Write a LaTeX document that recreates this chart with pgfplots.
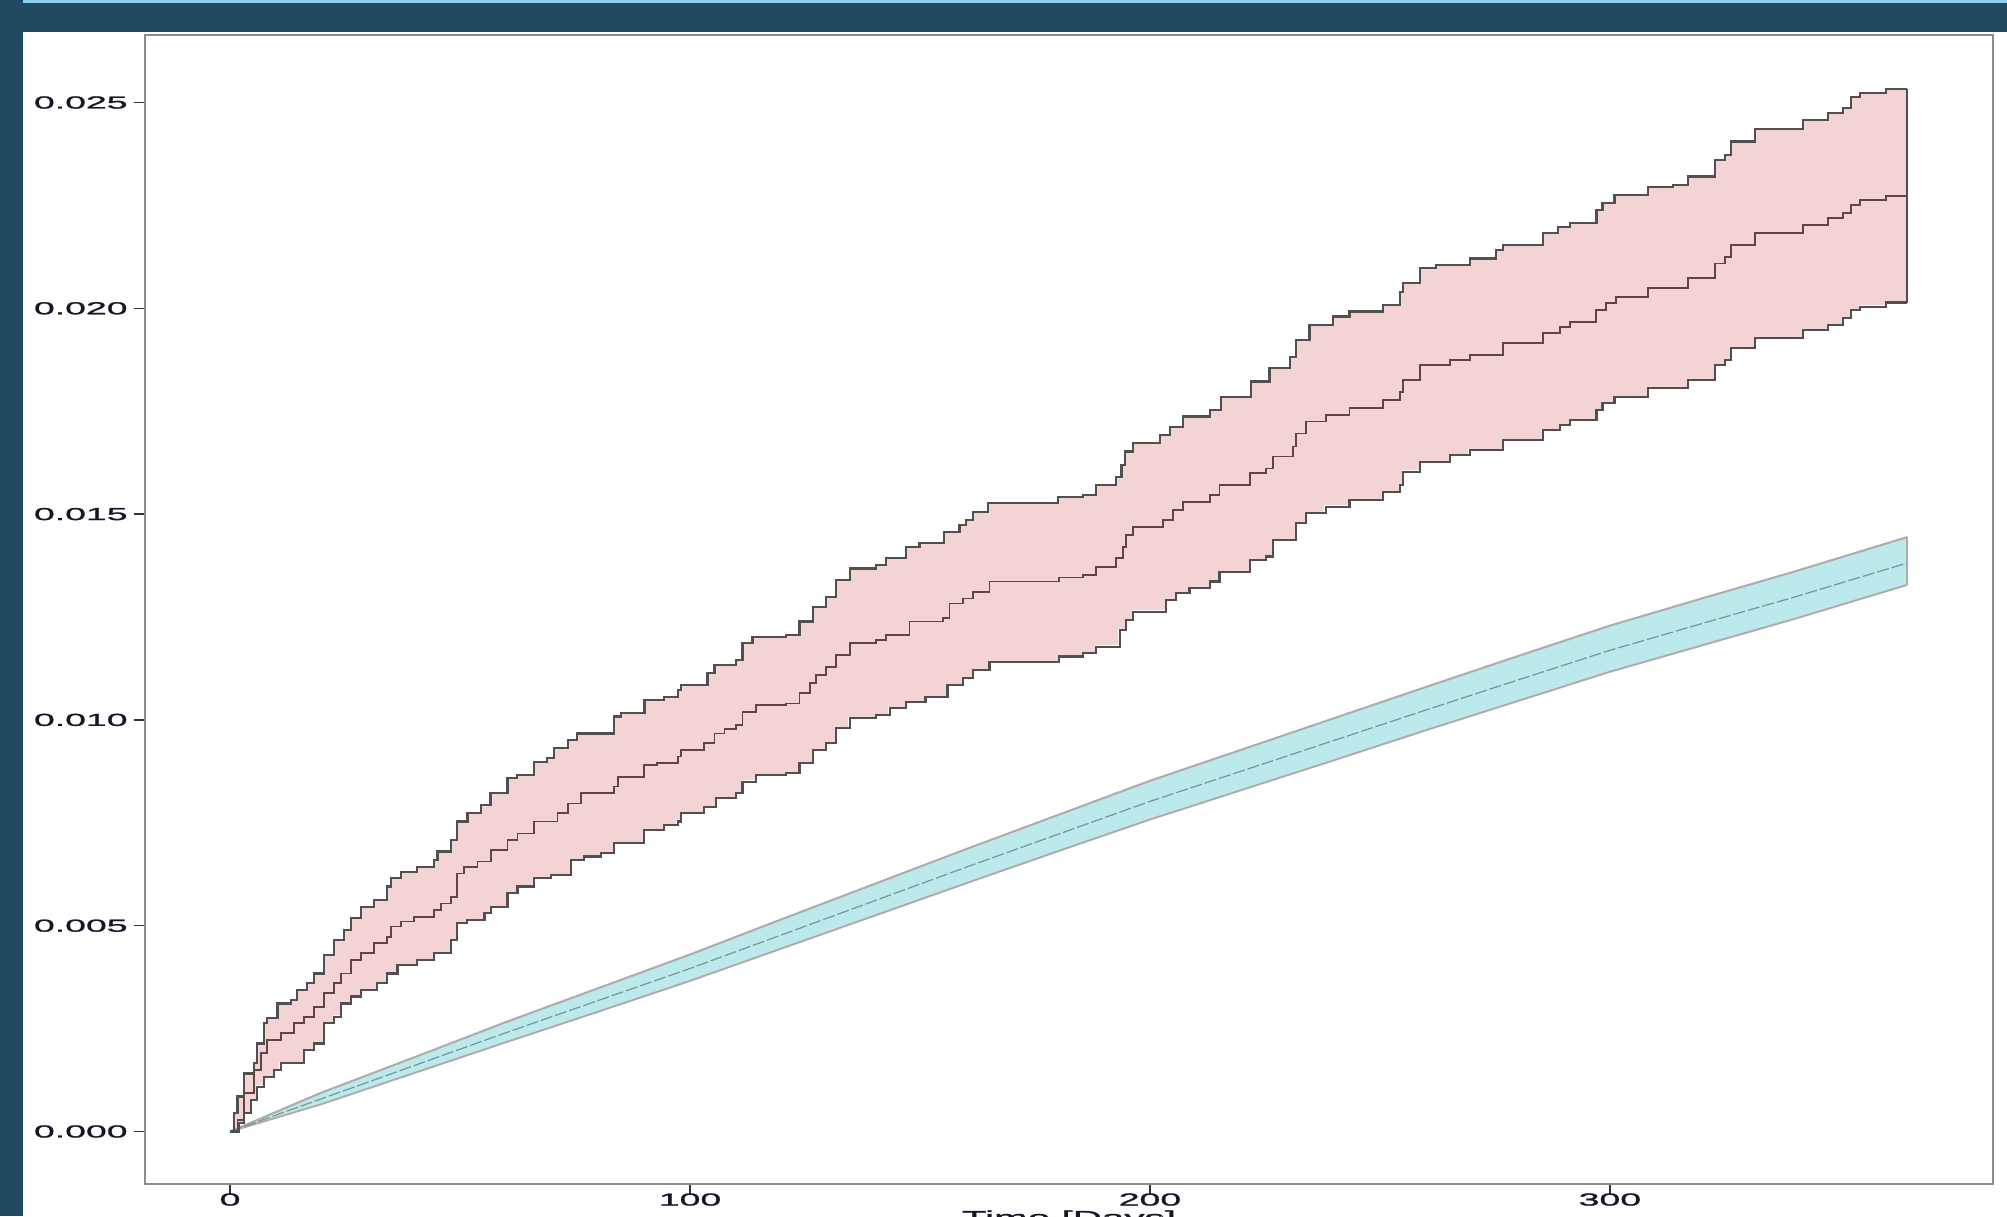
\documentclass[border=0pt]{standalone}
\usepackage{pgfplots}
\pgfplotsset{compat=1.18}
\usepackage{pgfplotstable}
\usepackage{fontspec}
\newfontfamily\labfont{Liberation Sans}[FakeStretch=2.15,FakeBold=1.4]
\definecolor{frame}{RGB}{33,74,98}
\definecolor{topstrip}{RGB}{140,206,238}
\definecolor{pinkfill}{RGB}{244,211,213}
\definecolor{cyanfill}{RGB}{188,233,236}
\definecolor{redline}{RGB}{80,80,80}
\definecolor{redmidc}{RGB}{95,70,70}
\definecolor{cyanline}{RGB}{172,172,172}
\definecolor{cyanmidc}{RGB}{120,148,150}
\definecolor{axisgray}{RGB}{140,140,140}
\definecolor{labcol}{RGB}{22,22,40}

\pgfplotstableread{
day val
0 0
1.6 0.00028
3.0 0.00093
5.2 0.00149
6.7 0.00190
8.1 0.00222
11.0 0.00239
13.9 0.00263
16.1 0.00279
18.3 0.00303
20.4 0.00336
22.6 0.00360
24.1 0.00384
26.3 0.00417
28.4 0.00433
31.3 0.00457
34.2 0.00473
35.0 0.00498
37.1 0.00510
40.0 0.00522
44.4 0.00538
45.8 0.00554
48.0 0.00570
49.4 0.00627
50.9 0.00643
53.8 0.00656
56.7 0.00684
60.3 0.00708
62.5 0.00724
66.1 0.00753
71.2 0.00773
73.4 0.00797
76.3 0.00822
83.5 0.00838
84.3 0.00862
90.0 0.00890
92.9 0.00895
97.3 0.00911
98.0 0.00927
103.1 0.00943
105.3 0.00967
107.5 0.00978
110.0 0.00988
111.4 0.01020
114.4 0.01036
120.9 0.01040
123.8 0.01065
126.0 0.01089
127.4 0.01109
129.6 0.01129
131.8 0.01158
134.7 0.01186
140.5 0.01194
142.6 0.01206
147.7 0.01239
155.0 0.01247
156.4 0.01283
159.3 0.01295
161.5 0.01311
165.1 0.01336
180.3 0.01346
185.4 0.01352
188.3 0.01372
192.6 0.01393
194.1 0.01421
194.8 0.01449
196.3 0.01469
202.8 0.01486
205.0 0.01510
207.2 0.01530
213.0 0.01546
215.1 0.01571
221.7 0.01599
225.3 0.01611
226.7 0.01640
231.1 0.01664
231.8 0.01696
234.0 0.01725
238.2 0.01741
243.4 0.01757
250.7 0.01777
254.3 0.01797
255.0 0.01826
258.7 0.01862
265.2 0.01874
269.5 0.01887
276.8 0.01915
285.5 0.01939
289.1 0.01955
291.3 0.01967
297.0 0.01996
299.2 0.02012
301.4 0.02028
308.3 0.02049
317.0 0.02073
322.8 0.02109
325.0 0.02125
326.4 0.02154
331.5 0.02182
342.0 0.02202
347.5 0.02219
350.7 0.02231
352.5 0.02251
354.4 0.02263
360.1 0.02273
364.6 0.02273
}\tabRedMid

\pgfplotstableread{
day val
0 0
0.9 0.00044
1.6 0.00085
3.0 0.00141
5.2 0.00166
5.9 0.00214
7.4 0.00263
8.1 0.00275
10.3 0.00311
13.2 0.00320
14.6 0.00344
16.8 0.00360
18.3 0.00384
20.4 0.00429
22.6 0.00465
24.8 0.00490
26.3 0.00518
28.4 0.00546
31.3 0.00562
34.2 0.00595
34.9 0.00615
37.1 0.00631
40.7 0.00643
44.4 0.00660
45.1 0.00680
48.0 0.00708
49.4 0.00753
51.6 0.00773
54.5 0.00793
56.6 0.00822
60.3 0.00858
62.4 0.00866
66.1 0.00898
68.9 0.00907
70.5 0.00931
73.4 0.00951
75.5 0.00967
83.5 0.01008
85.0 0.01016
90.1 0.01048
94.4 0.01056
97.3 0.01073
98.0 0.01085
103.8 0.01113
105.3 0.01133
110.0 0.01146
111.4 0.01186
113.6 0.01202
120.9 0.01206
123.8 0.01239
126.7 0.01275
129.6 0.01299
131.8 0.01340
134.7 0.01368
140.5 0.01376
142.6 0.01393
147.0 0.01421
149.9 0.01429
155.3 0.01457
158.6 0.01474
160.0 0.01486
161.5 0.01506
164.7 0.01526
180.0 0.01542
185.4 0.01546
188.3 0.01571
192.7 0.01591
193.8 0.01619
194.5 0.01652
196.3 0.01672
202.1 0.01692
204.3 0.01712
207.2 0.01737
213.0 0.01753
215.5 0.01785
222.0 0.01822
226.0 0.01854
230.4 0.01882
231.8 0.01923
234.7 0.01959
239.8 0.01980
243.4 0.01992
250.7 0.02008
254.3 0.02040
255.0 0.02061
258.7 0.02097
262.2 0.02105
269.5 0.02121
275.2 0.02142
276.8 0.02154
285.5 0.02182
288.7 0.02198
291.3 0.02207
297.1 0.02239
298.4 0.02255
301.0 0.02275
308.3 0.02295
313.7 0.02300
317.0 0.02320
322.8 0.02360
325.0 0.02372
326.4 0.02405
331.5 0.02435
342.0 0.02457
347.5 0.02475
350.7 0.02486
352.5 0.02514
354.4 0.02524
360.1 0.02532
364.6 0.02532
}\tabRedUp

\pgfplotstableread{
day val
0 0
2.0 0.00020
3.0 0.00044
4.5 0.00077
5.9 0.00109
7.4 0.00133
9.6 0.00149
11.0 0.00166
16.1 0.00198
18.3 0.00214
20.4 0.00263
22.6 0.00279
24.1 0.00311
26.3 0.00328
28.4 0.00344
32.0 0.00360
34.2 0.00384
36.4 0.00405
40.7 0.00417
44.4 0.00433
48.0 0.00465
49.4 0.00506
51.5 0.00514
55.3 0.00530
56.7 0.00546
60.3 0.00579
62.5 0.00595
66.1 0.00615
69.8 0.00623
74.1 0.00660
77.0 0.00668
80.6 0.00676
83.5 0.00700
90.0 0.00733
94.4 0.00745
97.3 0.00753
98.0 0.00773
103.1 0.00789
105.7 0.00810
110.0 0.00822
111.4 0.00850
114.4 0.00866
120.9 0.00870
123.8 0.00895
126.7 0.00927
129.6 0.00943
131.8 0.00980
134.7 0.01004
140.5 0.01012
143.4 0.01028
146.9 0.01044
151.2 0.01056
156.0 0.01085
159.3 0.01101
161.5 0.01121
165.1 0.01141
180.3 0.01154
185.4 0.01162
188.3 0.01178
193.4 0.01218
194.8 0.01243
196.3 0.01263
203.5 0.01291
205.7 0.01308
208.6 0.01320
213.0 0.01336
215.1 0.01360
221.7 0.01388
225.3 0.01397
226.7 0.01437
231.8 0.01478
234.0 0.01502
238.2 0.01518
243.4 0.01534
250.7 0.01554
254.3 0.01571
255.0 0.01603
258.7 0.01627
265.2 0.01644
269.5 0.01656
276.8 0.01680
285.5 0.01704
289.1 0.01716
291.3 0.01729
297.1 0.01753
298.4 0.01769
301.0 0.01785
308.3 0.01806
317.0 0.01826
322.8 0.01862
325.0 0.01874
326.4 0.01903
331.5 0.01927
342.0 0.01947
347.5 0.01959
350.7 0.01976
352.5 0.01996
354.4 0.02004
360.1 0.02014
364.6 0.02014
}\tabRedLo

\pgfplotstableread{
day val
0 0
20 0.00080
40 0.00160
60 0.00240
80 0.00318
100 0.00396
120 0.00478
140 0.00560
160 0.00642
180 0.00722
200 0.00802
220 0.00876
240 0.00950
260 0.01024
280 0.01097
300 0.01169
320 0.01234
340 0.01298
364.6 0.01381
}\tabCyMid

\pgfplotstableread{
day val
0 0
20 0.00095
40 0.00180
60 0.00266
80 0.00348
100 0.00430
120 0.00516
140 0.00601
160 0.00686
180 0.00769
200 0.00852
220 0.00928
240 0.01004
260 0.01080
280 0.01155
300 0.01229
320 0.01295
340 0.01360
364.6 0.01444
}\tabCyUp

\pgfplotstableread{
day val
0 0
20 0.00067
40 0.00142
60 0.00217
80 0.00291
100 0.00366
120 0.00445
140 0.00524
160 0.00603
180 0.00681
200 0.00758
220 0.00830
240 0.00902
260 0.00975
280 0.01046
300 0.01117
320 0.01181
340 0.01245
364.6 0.01328
}\tabCyLo

\begin{document}
\begin{tikzpicture}
\fill[white] (0,0) rectangle (1003.5pt,608pt);
\fill[frame] (0,0) rectangle (11.5pt,608pt);
\fill[frame] (0,592pt) rectangle (1003.5pt,608pt);
\fill[topstrip] (11.5pt,606.3pt) rectangle (1003.5pt,608pt);
\begin{axis}[
  at={(72.5pt,16pt)}, anchor=south west,
  scale only axis, width=924pt, height=574.5pt,
  xmin=-18.5, xmax=383.3, ymin=-0.001276, ymax=0.02664,
  axis line style={draw=axisgray, line width=1.4pt},
  xtick={0,100,200,300}, xticklabels={0,100,200,300},
  ytick={0,0.005,0.010,0.015,0.020,0.025},
  yticklabels={0.000,0.005,0.010,0.015,0.020,0.025},
  scaled y ticks=false,
  xtick pos=bottom, ytick pos=left,
  tick align=outside, major tick length=5.5pt,
  major tick style={draw=black!80, line width=0.7pt},
  ticklabel style={font=\labfont\fontsize{8.7}{10}\selectfont, text=labcol},
  yticklabel style={anchor=east, inner sep=0pt, xshift=-3pt},
  xticklabel style={anchor=north, inner sep=0pt, yshift=1pt},
]
\addplot[fill=pinkfill, draw=none, const plot, forget plot] table[x=day,y=val] {\tabRedUp} \closedcycle;
\addplot[fill=white, draw=white, line width=1.2pt, const plot, forget plot] table[x=day,y=val] {\tabRedLo} \closedcycle;
\addplot[fill=cyanfill, draw=none, forget plot] table[x=day,y=val] {\tabCyUp} \closedcycle;
\addplot[fill=white, draw=white, line width=1pt, forget plot] table[x=day,y=val] {\tabCyLo} \closedcycle;
\addplot[cyanline, line width=1pt] table[x=day,y=val] {\tabCyUp};
\addplot[cyanline, line width=1pt] table[x=day,y=val] {\tabCyLo};
\addplot[cyanline, line width=1pt] coordinates {(364.6,0.01328) (364.6,0.01444)};
\addplot[cyanmidc, line width=0.6pt, dash pattern=on 6pt off 1.5pt] table[x=day,y=val] {\tabCyMid};
\addplot[redline, line width=1.1pt, const plot] table[x=day,y=val] {\tabRedUp};
\addplot[redline, line width=1.1pt, const plot] table[x=day,y=val] {\tabRedLo};
\addplot[redline, line width=1.1pt] coordinates {(364.6,0.02014) (364.6,0.02532)};
\addplot[redmidc, line width=0.9pt, const plot] table[x=day,y=val] {\tabRedMid};
\end{axis}
\node[font=\labfont\fontsize{9.4}{11}\selectfont, text=labcol, anchor=north, inner sep=0pt] at (534.5pt,3pt) {Time [Days]};
\pgfresetboundingbox
\path[use as bounding box] (0,0) rectangle (1003.5pt,608pt);
\end{tikzpicture}
\end{document}
